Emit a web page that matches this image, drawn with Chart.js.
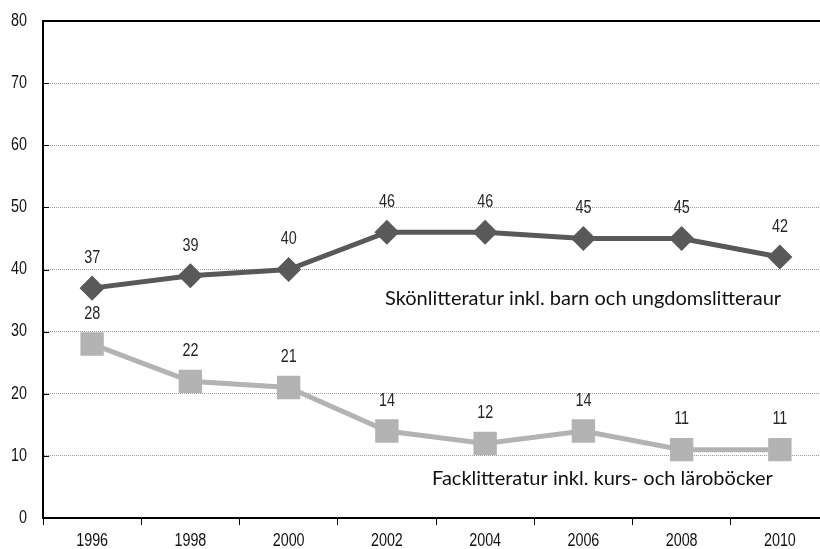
<!DOCTYPE html>
<html>
<head>
<meta charset="utf-8">
<script src="https://cdn.jsdelivr.net/npm/chart.js@4/dist/chart.umd.min.js"></script>
<style>
  html, body { margin: 0; padding: 0; background: #fff; overflow: hidden; }
</style>
</head>
<body>
<canvas id="myChart" width="829" height="549"></canvas>
<script>
const years = ["1996", "1998", "2000", "2002", "2004", "2006", "2008", "2010"];
const skonlitteratur = [37, 39, 40, 46, 46, 45, 45, 42];
const facklitteratur = [28, 22, 21, 14, 12, 14, 11, 11];
const yTicks = [0, 10, 20, 30, 40, 50, 60, 70, 80];
const labelSkon = "Skönlitteratur inkl. barn och ungdomslitteraur";
const labelFack = "Facklitteratur inkl. kurs- och läroböcker";

// smal text (som Arial Narrow): Liberation Sans ihoptryckt på bredden
function drawNarrow(ctx, text, x, y, align) {
  ctx.save();
  ctx.translate(x, y);
  ctx.scale(0.82, 1);
  ctx.textAlign = align;
  ctx.textBaseline = "middle";
  ctx.fillText(text, 0, 0);
  ctx.restore();
}

const extras = {
  id: "extras",
  afterDatasetsDraw(chart) {
    const ctx = chart.ctx;
    const x = chart.scales.x;
    const y = chart.scales.y;
    const area = chart.chartArea;

    ctx.save();
    ctx.font = "17.5px 'Liberation Sans', Arial, sans-serif";

    // värden ovanför punkterna
    ctx.fillStyle = "#262626";
    chart.data.datasets.forEach((ds) => {
      ds.data.forEach((v, i) => {
        drawNarrow(ctx, String(v), x.getPixelForValue(i), y.getPixelForValue(v) - 30, "center");
      });
    });

    // axeletiketter
    ctx.fillStyle = "#111";
    yTicks.forEach((t) => {
      drawNarrow(ctx, String(t), 27, y.getPixelForValue(t), "right");
    });
    years.forEach((lab, i) => {
      drawNarrow(ctx, lab, x.getPixelForValue(i), area.bottom + 23, "center");
    });

    // texter i diagrammet
    ctx.font = "20px Lato, 'Open Sans', sans-serif";
    ctx.fillStyle = "#111";
    ctx.textAlign = "left";
    ctx.textBaseline = "middle";
    ctx.fillText(labelSkon, 385, y.getPixelForValue(35.4));
    ctx.fillText(labelFack, 432, y.getPixelForValue(6.4));

    // ram upptill
    ctx.strokeStyle = "#000";
    ctx.lineWidth = 2;
    ctx.beginPath();
    ctx.moveTo(area.left, area.top);
    ctx.lineTo(area.right, area.top);
    ctx.stroke();

    // små streck vid y-axeln
    ctx.lineWidth = 1;
    yTicks.forEach((t) => {
      const py = Math.round(y.getPixelForValue(t)) + 0.5;
      ctx.beginPath();
      ctx.moveTo(area.left, py);
      ctx.lineTo(area.left + 6, py);
      ctx.stroke();
    });
    ctx.restore();
  },
};

new Chart(document.getElementById("myChart"), {
  type: "line",
  data: {
    labels: years,
    datasets: [
      {
        label: labelSkon,
        data: skonlitteratur,
        borderColor: "#595959",
        backgroundColor: "#595959",
        borderWidth: 5,
        pointStyle: "rectRot",
        pointRadius: 9,
        pointHoverRadius: 9,
        tension: 0,
      },
      {
        label: labelFack,
        data: facklitteratur,
        borderColor: "#b3b3b3",
        backgroundColor: "#b3b3b3",
        borderWidth: 5,
        pointStyle: "rect",
        pointRadius: 13,
        pointHoverRadius: 13,
        tension: 0,
      },
    ],
  },
  options: {
    responsive: false,
    animation: false,
    layout: { autoPadding: false, padding: { top: 21, right: 0, left: 0, bottom: 0 } },
    plugins: {
      legend: { display: false },
      tooltip: { enabled: false },
    },
    scales: {
      x: {
        offset: true,
        grid: {
          offset: true,
          drawOnChartArea: false,
          color: "#000",
          tickLength: 7,
        },
        border: { color: "#000", width: 2 },
        ticks: { display: false },
        afterFit(scale) {
          scale.height = 31;
        },
      },
      y: {
        min: 0,
        max: 80,
        afterBuildTicks(scale) {
          scale.ticks = yTicks.map((v) => ({ value: v }));
        },
        grid: {
          color: "#9a9a9a",
          lineWidth: 1,
          drawTicks: false,
        },
        border: { color: "#000", width: 2, dash: [1, 1] },
        ticks: { display: false },
        afterFit(scale) {
          scale.width = 43;
        },
      },
    },
  },
  plugins: [extras],
});
</script>
</body>
</html>
